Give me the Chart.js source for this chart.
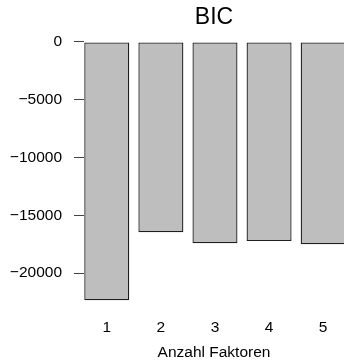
<!DOCTYPE html>
<html>
<head>
<meta charset="utf-8">
<script src="https://cdn.jsdelivr.net/npm/chart.js@4.4.1/dist/chart.umd.min.js"></script>
<style>
  html, body { margin: 0; padding: 0; background: #fff; }
  #wrap { width: 344px; height: 360px; }
</style>
</head>
<body>
<div id="wrap"><canvas id="bicChart"></canvas></div>
<script>
// Anzahl Faktoren und BIC-Werte
const factors = [1, 2, 3, 4, 5];
const bicValues = [-22350, -16470, -17430, -17230, -17510];
const yTicks = [0, -5000, -10000, -15000, -20000];

document.addEventListener("DOMContentLoaded", function () {
    const ctx = document.getElementById('bicChart').getContext('2d');
    const fontFamily = "'Liberation Sans', Arial, Helvetica, sans-serif";

    new Chart(ctx, {
        type: 'bar',
        data: {
            datasets: [{
                label: 'BIC',
                data: factors.map((f, i) => ({ x: f, y: bicValues[i] })),
                backgroundColor: '#bebebe',
                borderColor: '#1e1e1e',
                borderWidth: 1.3,
                borderSkipped: false,
                categoryPercentage: 1,
                barPercentage: 0.832
            }]
        },
        options: {
            responsive: true,
            maintainAspectRatio: false,
            animation: false,
            layout: { padding: 0 },
            plugins: {
                legend: { display: false },
                tooltip: { enabled: false },
                title: {
                    display: true,
                    text: 'BIC',
                    fullSize: false,
                    color: '#000',
                    font: { family: fontFamily, size: 23, weight: 'normal', lineHeight: 1.1 },
                    padding: { top: 5.5, bottom: 0.8 }
                }
            },
            scales: {
                x: {
                    type: 'linear',
                    min: 0.579,
                    max: 5.385,
                    offset: false,
                    grid: { display: false, drawTicks: false, offset: false },
                    border: { display: false },
                    ticks: {
                        stepSize: 1,
                        includeBounds: false,
                        color: '#000',
                        padding: 8,
                        font: { family: fontFamily, size: 15.5 }
                    },
                    title: {
                        display: true,
                        text: 'Anzahl Faktoren',
                        color: '#000',
                        font: { family: fontFamily, size: 15.5, lineHeight: 1 },
                        padding: { top: 0, bottom: 0 }
                    },
                    afterFit: function (scale) { scale.height = 50; }
                },
                y: {
                    min: -23200,
                    max: 890,
                    grid: {
                        display: true,
                        drawOnChartArea: false,
                        drawTicks: true,
                        tickLength: 10,
                        color: '#444'
                    },
                    border: { display: false },
                    afterBuildTicks: function (scale) {
                        scale.ticks = yTicks.map(v => ({ value: v }));
                    },
                    ticks: {
                        color: '#000',
                        padding: 12,
                        font: { family: fontFamily, size: 15.5 },
                        callback: function (v) {
                            return v < 0 ? '\u2212' + Math.abs(v) : String(v);
                        }
                    },
                    afterFit: function (scale) { scale.width = 84; }
                }
            }
        }
    });
});
</script>
</body>
</html>
